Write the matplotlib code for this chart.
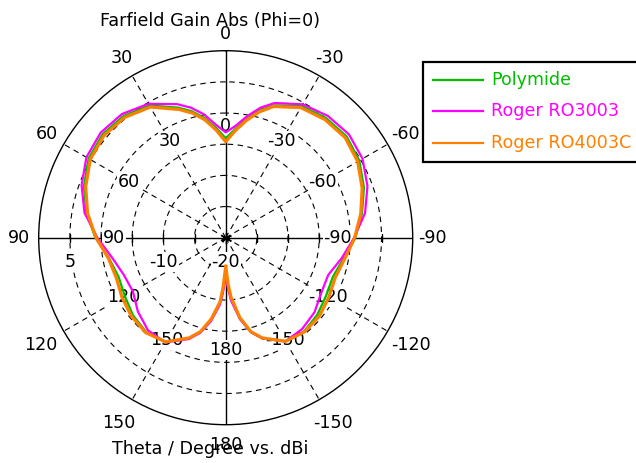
import numpy as np
import matplotlib
matplotlib.use("Agg")
import matplotlib.pyplot as plt
from matplotlib.lines import Line2D
from matplotlib.patches import Rectangle

# ---------------- data (theta in degrees, gain in dBi) ----------------
theta_deg = [-180, -179, -177, -175, -170, -165, -160, -150, -140, -130, -120, -110,
             -100, -90, -80, -70, -60, -50, -40, -30, -20, -15, -10, -5,
             0, 5, 10, 15, 20, 30, 40, 50, 60, 70, 80, 90,
             100, 110, 120, 130, 140, 150, 160, 165, 170, 175, 177, 179, 180]

gain_polymide = [-14.0, -13.6, -12.0, -10.2, -6.8, -4.3, -2.8, -0.8, -0.4, -0.8, -1.4, -1.7,
                 -0.8, 0.8, 2.2, 3.6, 4.75, 5.3, 5.05, 4.4, 2.6, 1.2, -0.6, -2.5,
                 -4.05, -2.3, -0.5, 1.0, 2.2, 4.5, 5.5, 5.8, 5.4, 4.2, 2.7, 0.9,
                 -1.0, -1.7, -1.3, -0.6, -0.2, -0.7, -2.8, -4.3, -6.6, -9.5, -11.5, -13.5, -14.0]

gain_ro3003 = [-13.3, -13.1, -11.5, -9.8, -6.7, -4.3, -2.8, -0.8, -0.9, -1.4, -2.3, -2.5,
               -1.1, 0.6, 2.7, 4.2, 5.35, 5.8, 5.5, 4.7, 3.0, 1.6, -0.2, -2.0,
               -3.1, -1.8, 0.1, 1.6, 2.8, 4.8, 5.9, 6.2, 5.8, 4.6, 3.0, 0.6,
               -1.5, -2.6, -2.8, -1.6, -0.6, -0.6, -2.7, -4.2, -6.4, -9.2, -11.0, -13.0, -13.3]

gain_ro4003c = [-15.4, -14.8, -12.5, -10.5, -7.0, -4.4, -2.9, -0.8, -0.3, -0.4, -0.9, -1.3,
                -0.6, 0.7, 2.0, 3.3, 4.45, 5.0, 4.75, 4.1, 2.4, 0.9, -0.9, -2.8,
                -4.6, -2.7, -0.8, 0.7, 1.9, 4.2, 5.2, 5.5, 5.1, 3.9, 2.5, 0.8,
                -0.9, -1.3, -0.8, -0.3, -0.1, -0.7, -2.9, -4.4, -6.8, -9.7, -12.0, -14.6, -15.4]

series_names = ["Polymide", "Roger RO3003", "Roger RO4003C"]
series_colors = ["#00BE00", "#FF00FF", "#FF8000"]
series_widths = [1.6, 1.6, 2.3]

r_min, r_max = -20, 10
ring_values = [-15, -10, -5, 0, 5]
spoke_angles = [30, 60, 120, 150, -30, -60, -120, -150]
angle_labels = [0, 30, 60, 90, 120, 150, 180, -30, -60, -90, -120, -150]
radial_labels = [5, -10, -20]

title_text = "Farfield Gain Abs (Phi=0)"
xlabel_text = "Theta / Degree vs. dBi"

# ---------------- figure ----------------
W, H = 636, 463
fig = plt.figure(figsize=(W / 100, H / 100), dpi=100)
fig.patch.set_facecolor("white")

cx, cy, R = 225.7, 237.7, 187.0
ax = fig.add_axes([(cx - R) / W, (H - cy - R) / H, 2 * R / W, 2 * R / H],
                  projection="polar")
ax.set_theta_zero_location("N")
ax.set_theta_direction(1)
ax.set_ylim(r_min, r_max)
ax.set_xticks([])
ax.set_yticks([])
ax.grid(False)
ax.spines["polar"].set_linewidth(1.0)
ax.spines["polar"].set_color("black")

FS = 12.6
dash = (0, (5, 4))
full = np.linspace(0, 2 * np.pi, 721)
for rv in ring_values:
    ax.plot(full, np.full_like(full, rv), color="black", lw=0.8, ls=dash, zorder=1)
for a in spoke_angles:
    ax.plot([np.radians(a)] * 2, [r_min, r_max], color="black", lw=0.8, ls=dash, zorder=1)
for a in [0, 90, 180, -90]:
    ax.plot([np.radians(a)] * 2, [r_min, r_max], color="black", lw=1.0, zorder=1.2)
# ticks on the horizontal axis
for rv in ring_values:
    for a in [90, -90]:
        ax.plot([np.radians(a)], [rv], marker="|", ms=6, mew=1.0, color="black", zorder=1.2)
ax.plot([0], [r_min], marker=(6, 2, 0), ms=8, mew=1.0, color="black", zorder=1.3)

px_per_db = R / (r_max - r_min)

# outer angle labels
for a in angle_labels:
    rpx = 214 if abs(a) in (120, 150) else 207
    if a == 0:
        rpx = 204
    ax.text(np.radians(a), r_min + rpx / px_per_db, str(a), ha="center", va="center",
            fontsize=FS, clip_on=False, zorder=3)
# inner angle labels
for a in angle_labels:
    rpx = 118 if abs(a) in (120, 150) else 112
    ax.text(np.radians(a), r_min + rpx / px_per_db, str(a), ha="center", va="center",
            fontsize=FS, zorder=2,
            bbox=dict(boxstyle="square,pad=0.05", fc="white", ec="none"))
# radial labels
for rv in radial_labels:
    ax.annotate(str(rv), xy=(np.radians(90), rv), xytext=(0, -17.5),
                textcoords="offset points", ha="center", va="center", fontsize=FS,
                zorder=2, bbox=dict(boxstyle="square,pad=0.05", fc="white", ec="none"))

# curves
th = np.radians(theta_deg)
for g, c, lw in zip([gain_polymide, gain_ro3003, gain_ro4003c], series_colors, series_widths):
    ax.plot(th, g, color=c, lw=lw, zorder=4, solid_joinstyle="round")

# titles
fig.text(210 / W, 1 - 21 / H, title_text, ha="center", va="center", fontsize=FS)
fig.text(210 / W, 1 - 449 / H, xlabel_text, ha="center", va="center", fontsize=FS)

# legend (manual)
fig.patches.append(Rectangle((423 / W, 1 - 162 / H), 230 / W, 100 / H,
                             transform=fig.transFigure, fc="white", ec="black", lw=1.6,
                             zorder=5))
rows_y = [80.3, 111.0, 142.7]
for name, c, yy in zip(series_names, series_colors, rows_y):
    fig.lines.append(Line2D([433 / W, 482.5 / W], [1 - yy / H] * 2, transform=fig.transFigure,
                            color=c, lw=1.6, zorder=6))
    fig.text(491 / W, 1 - yy / H, name, color=c, ha="left", va="center", fontsize=FS,
             zorder=6)

fig.savefig("out.png", dpi=100, facecolor="white")
